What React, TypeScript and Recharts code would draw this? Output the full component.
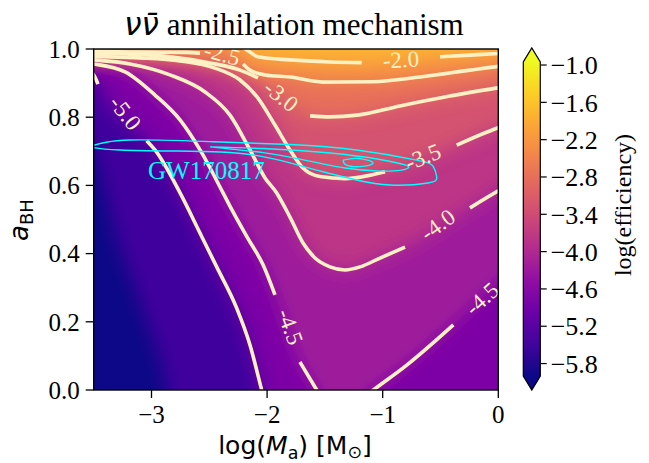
import React from "react";
import { ComposedChart, Area, Line, Scatter, XAxis, YAxis, BarChart, Bar } from "recharts";

// axes
const xTicks = [-3, -2, -1, 0];
const yTicks = [0, 0.2, 0.4, 0.6, 0.8, 1.0];
const cbTicks = [-5.8, -5.2, -4.6, -4.0, -3.4, -2.8, -2.2, -1.6, -1.0];
const cbRange = [-6.0, -0.95];
const frameX = [-3.7, 0.2];

// contour lines [log Ma, aBH], each split where the inline label cuts it
const cDark = [[[-3.7, 0.78], [-3.575, 0.733], [-3.5, 0.704], [-3.402, 0.587], [-3.29, 0.44], [-3.169, 0.323], [-3.013, 0.176], [-2.866, 0], [-2.84, -0.06]]];
const c50 = [
  [[-3.7, 0.97], [-3.5, 0.924], [-3.463, 0.897]],
  [[-3.042, 0.731], [-2.97, 0.704], [-2.753, 0.578], [-2.58, 0.46], [-2.436, 0.361], [-2.263, 0.24], [-2.148, 0.132], [-2.047, 0], [-2.001, -0.06]],
];
const c45left = [
  [[-3.7, 0.962], [-3.5, 0.956], [-3.229, 0.933], [-2.97, 0.865], [-2.753, 0.792], [-2.58, 0.704], [-2.381, 0.578], [-2.304, 0.528], [-2.174, 0.449], [-2.035, 0.367], [-1.932, 0.279]],
  [[-1.716, 0.082], [-1.571, 0], [-1.465, -0.06]],
];
const c45right = [[[-1.311, -0.06], [-1.081, 0], [-0.792, 0.073], [-0.389, 0.191]]];
const c45hidden = [[[0, 0.314], [0.2, 0.37]]];
const c40 = [
  [[-3.7, 0.972], [-3.5, 0.968], [-3.186, 0.956], [-2.84, 0.924], [-2.537, 0.874], [-2.321, 0.806], [-2.148, 0.704], [-2.018, 0.622], [-1.917, 0.578], [-1.802, 0.507], [-1.689, 0.431], [-1.585, 0.387], [-1.456, 0.361], [-1.326, 0.352], [-1.196, 0.361], [-1.023, 0.387], [-0.807, 0.419]],
  [[-0.245, 0.534], [0, 0.584], [0.2, 0.62]],
];
const c35 = [
  [[-3.7, 0.98], [-3.5, 0.978], [-3.099, 0.974], [-2.753, 0.965], [-2.451, 0.944], [-2.234, 0.909], [-2.079, 0.856], [-1.932, 0.777], [-1.802, 0.704], [-1.69, 0.651], [-1.542, 0.626], [-1.326, 0.62], [-0.98, 0.64]],
  [[-0.36, 0.718], [0, 0.769], [0.2, 0.79]],
];
const c30 = [
  [[-3.7, 0.988], [-3.5, 0.987], [-3.186, 0.985], [-2.84, 0.977], [-2.494, 0.959], [-2.234, 0.938], [-2.079, 0.915]],
  [[-1.628, 0.804], [-1.456, 0.801], [-1.222, 0.806], [-0.85, 0.833], [-0.418, 0.862], [0, 0.886], [0.2, 0.894]],
];
const c25 = [
  [[-3.7, 0.996], [-3.5, 0.993], [-3.099, 0.991], [-2.696, 0.99], [-2.58, 0.988]],
  [[-2.208, 0.956], [-2.148, 0.938], [-2.018, 0.924], [-1.802, 0.918], [-1.516, 0.903], [-1.084, 0.904], [-0.677, 0.918], [-0.245, 0.938], [0, 0.949], [0.2, 0.956]],
];
const c20 = [
  [[-2.234, 1.012], [-2.148, 0.991], [-2.079, 0.977], [-1.802, 0.968], [-1.456, 0.962], [-1.182, 0.96]],
  [[-0.504, 0.977], [-0.245, 0.982], [0, 0.987], [0.2, 0.992]],
];
const floorRight = [[[0.2, -0.06]]];

// inline contour labels
const levelText = ["-5.0", "-4.5", "-4.5", "-4.0", "-3.5", "-3.0", "-2.5", "-2.0"];
const levelX = [-3.229, -1.802, -0.141, -0.522, -0.651, -1.88, -2.39, -0.842];
const levelY = [0.812, 0.185, 0.267, 0.484, 0.683, 0.862, 0.985, 0.968];

// GW170817 credible regions
const gwOuter = [[-3.515, 0.716], [-3.186, 0.733], [-2.468, 0.728], [-1.802, 0.72], [-1.225, 0.704], [-0.706, 0.674], [-0.562, 0.655], [-0.533, 0.625], [-0.608, 0.607], [-0.937, 0.601], [-1.225, 0.616], [-1.516, 0.64], [-1.802, 0.666], [-2.061, 0.686], [-2.407, 0.698], [-2.84, 0.701], [-3.272, 0.704], [-3.489, 0.71], [-3.515, 0.716]];
const gwMid = [[-2.492, 0.713], [-2.035, 0.708], [-1.456, 0.695], [-1.023, 0.676], [-0.807, 0.66], [-0.781, 0.651], [-0.85, 0.644], [-1.023, 0.642], [-1.326, 0.651], [-1.716, 0.677], [-2.035, 0.696], [-2.492, 0.713]];
const gwInner = [[-1.343, 0.674], [-1.214, 0.679], [-1.084, 0.666], [-1.196, 0.655], [-1.317, 0.66], [-1.343, 0.674]];
const gwName = "GW170817";
const gwLabelAt = [-3.03, 0.619];

// styles
const labelAngle = [52, 70, -42, -36, -22, 39, 15, -3];
const plasma = ["#0d0887", "#41049d", "#6a00a8", "#8f0da4", "#b12a90", "#cc4778", "#e16462", "#f2844b", "#fca636", "#fcce25", "#f0f921"];
const bandColors = ["#41049d", "#7b06a6", "#9e1a9b", "#bc3686", "#d4526f", "#e7705a", "#f69044", "#fcb330"];
const lineColor = "#fff1c4";
const gwColor = "#00ffff";
const serif = "Liberation Serif";

const pts = (seg: number[][]) => seg.map(([x, y]) => ({ x, y }));
const band = (...parts: number[][][][]) => parts.flat(2).map(([x, y]) => ({ x, r: [y, 1.2] }));

const bands = [
  band(cDark, floorRight),
  band(c50, floorRight),
  band(c45left, c45right, c45hidden),
  band(c40),
  band(c35),
  band(c30),
  band(c25),
  band(c20),
];
const lineSegs = [c50, c45left, c45right, c40, c35, c30, c25, c20].flat(1);
const labelData = levelText.map((t, i) => ({ x: levelX[i], y: levelY[i], t, i }));

const minus = (v: number, d: number) => v.toFixed(d).replace("-", "\u2212");

function LevelLabel(p: any) {
  const a = labelAngle[p.payload.i];
  return (
    <text x={p.cx} y={p.cy} transform={`rotate(${a} ${p.cx} ${p.cy})`} textAnchor="middle" dominantBaseline="central"
      fill={lineColor} fontFamily={serif} fontSize={23}>{p.payload.t}</text>
  );
}

function GwLabel(p: any) {
  return <text x={p.cx} y={p.cy} fill={gwColor} fontFamily={serif} fontSize={25}>{gwName}</text>;
}

function CbShape(p: any) {
  const { x, width: w } = p;
  const top = Math.min(p.y, p.y + p.height);
  const h = Math.abs(p.height);
  const ext = 14;
  const outline = `${x},${top} ${x + w / 2},${top - ext} ${x + w},${top} ${x + w},${top + h} ${x + w / 2},${top + h + ext} ${x},${top + h}`;
  return (
    <g>
      <rect x={x} y={top} width={w} height={h} fill="url(#plasmaV)" />
      <polygon points={`${x},${top} ${x + w / 2},${top - ext} ${x + w},${top}`} fill={plasma[10]} />
      <polygon points={`${x},${top + h} ${x + w / 2},${top + h + ext} ${x + w},${top + h}`} fill={plasma[0]} />
      <polygon points={outline} fill="none" stroke="#000" strokeWidth={1.2} />
    </g>
  );
}

export default function App() {
  return (
    <div style={{ position: "absolute", left: 0, top: 0, width: 649, height: 463, background: "#fff" }}>
      <svg width={0} height={0} style={{ position: "absolute" }}>
        <defs>
          <filter id="soft" x="-20%" y="-20%" width="140%" height="140%">
            <feGaussianBlur stdDeviation={9} />
          </filter>
          <linearGradient id="plasmaV" x1="0" y1="1" x2="0" y2="0">
            {plasma.map((c, i) => <stop key={i} offset={i / 10} stopColor={c} />)}
          </linearGradient>
        </defs>
      </svg>

      <ComposedChart width={649} height={463} margin={{ top: 49, right: 150.7, bottom: 33, left: 0 }}
        style={{ position: "absolute", left: 0, top: 0 }}>
        <XAxis type="number" dataKey="x" domain={[-3.5, 0]} ticks={xTicks} allowDataOverflow height={40}
          axisLine={false} tickSize={8} tickMargin={7} tickLine={{ stroke: "#000", strokeWidth: 1.3 }}
          tick={{ fill: "#000", fontSize: 25, fontFamily: serif }} tickFormatter={(v) => minus(v, 0)} />
        <YAxis type="number" dataKey="y" domain={[0, 1]} ticks={yTicks} allowDataOverflow width={93.7}
          axisLine={false} tickSize={8} tickMargin={6} tickLine={{ stroke: "#000", strokeWidth: 1.3 }}
          tick={{ fill: "#000", fontSize: 25, fontFamily: serif }} tickFormatter={(v) => v.toFixed(1)} />

        <Area data={frameX.map((x) => ({ x, r: [-0.2, 1.2] }))} dataKey="r" type="linear" fill={plasma[0]}
          fillOpacity={1} stroke="none" isAnimationActive={false} />
        {bands.map((b, i) => (
          <Area key={`b${i}`} data={b} dataKey="r" type="monotone" fill={bandColors[i]} fillOpacity={1}
            stroke="none" filter="url(#soft)" isAnimationActive={false} />
        ))}

        {lineSegs.map((s, i) => (
          <Line key={`l${i}`} data={pts(s)} dataKey="y" type="monotone" stroke={lineColor} strokeWidth={3.6}
            dot={false} isAnimationActive={false} />
        ))}
        {[gwOuter, gwMid, gwInner].map((g, i) => (
          <Line key={`g${i}`} data={pts(g)} dataKey="y" type="natural" stroke={gwColor} strokeWidth={1.4}
            dot={false} isAnimationActive={false} />
        ))}

        <Scatter data={labelData} dataKey="y" shape={LevelLabel} isAnimationActive={false} />
        <Scatter data={[{ x: gwLabelAt[0], y: gwLabelAt[1] }]} dataKey="y" shape={GwLabel} isAnimationActive={false} />
      </ComposedChart>

      <BarChart width={169} height={463} data={[{ name: "cb", r: cbRange }]} barCategoryGap={0}
        margin={{ top: 58.8, right: 48.3, bottom: 87, left: 43.3 }} style={{ position: "absolute", left: 480, top: 0 }}>
        <XAxis dataKey="name" hide />
        <YAxis orientation="right" type="number" domain={[-6.0, -0.9]} ticks={cbTicks} width={60}
          axisLine={false} tickSize={6} tickMargin={4} tickLine={{ stroke: "#000", strokeWidth: 1.2 }}
          tick={{ fill: "#000", fontSize: 26, fontFamily: serif }} tickFormatter={(v) => minus(v, 1)} />
        <Bar dataKey="r" shape={CbShape} isAnimationActive={false} />
      </BarChart>

      <svg width={649} height={463} style={{ position: "absolute", left: 0, top: 0, pointerEvents: "none" }}>
        <rect x={93.7} y={49} width={404.6} height={341} fill="none" stroke="#000" strokeWidth={1.4} />
        <text x={294} y={35} textAnchor="middle" fontSize={31}>
          <tspan fontFamily="DejaVu Sans" fontStyle="italic">{"\u03bd\u03bd\u0304"}</tspan>
          <tspan fontFamily={serif}> annihilation mechanism</tspan>
        </text>
        <text x={295} y={454} textAnchor="middle" fontFamily="DejaVu Sans" fontSize={25}>
          log(<tspan fontStyle="italic">M</tspan><tspan fontSize={17.5} dy={5}>a</tspan><tspan dy={-5}>) [M</tspan>
          <tspan fontSize={17.5} dy={4}>{"\u2299"}</tspan><tspan dy={-4}>]</tspan>
        </text>
        <text x={28} y={220} transform="rotate(-90 28 220)" textAnchor="middle" fontFamily="DejaVu Sans" fontSize={26}>
          <tspan fontStyle="italic">a</tspan><tspan fontSize={18} dy={5}>BH</tspan>
        </text>
        <text x={631} y={205} transform="rotate(-90 631 205)" textAnchor="middle" fontFamily={serif} fontSize={24}>
          log(efficiency)
        </text>
      </svg>
    </div>
  );
}
